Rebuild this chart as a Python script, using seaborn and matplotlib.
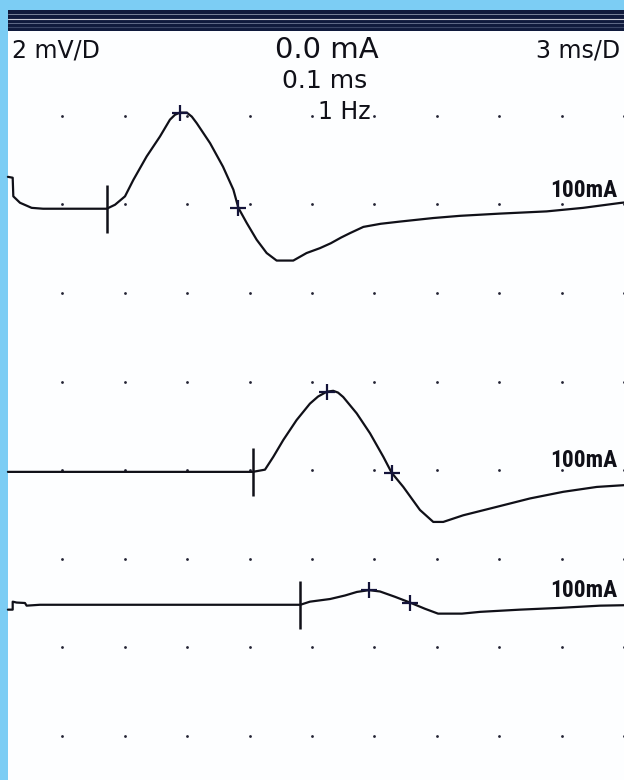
import numpy as np
import pandas as pd
import matplotlib
matplotlib.use("Agg")
import matplotlib.pyplot as plt
from matplotlib import font_manager
from matplotlib.patches import Rectangle
import seaborn as sns

# ---------------- data (time in ms, amplitude in mV relative to baseline) ----------------
t1 = [0.38, 0.61, 0.64, 0.96, 1.52, 2.07, 5.13, 5.53, 6.01, 6.41, 7.05, 7.69, 8.17, 8.41, 8.65,
      8.98, 9.22, 9.46, 10.10, 10.72, 11.22, 11.46, 11.86, 12.34, 12.82, 13.30, 14.10, 14.74,
      15.38, 15.90, 16.40, 16.83, 17.47, 18.30, 19.23, 20.83, 22.12, 24.04, 26.28, 28.04, 29.81, 30.0]
a1 = [0.72, 0.70, 0.28, 0.135, 0.02, 0.0, 0.0, 0.09, 0.28, 0.65, 1.18, 1.63, 2.01, 2.12, 2.17,
      2.17, 2.08, 1.93, 1.48, 0.95, 0.43, 0.02, -0.32, -0.70, -1.00, -1.17, -1.17, -1.00,
      -0.89, -0.78, -0.65, -0.55, -0.41, -0.34, -0.29, -0.21, -0.16, -0.11, -0.06, 0.02, 0.13, 0.14]

t2 = [0.38, 12.15, 12.74, 13.14, 13.62, 14.26, 14.90, 15.29, 15.71, 16.02, 16.25, 16.50, 17.15,
      17.79, 18.43, 18.83, 19.39, 20.19, 20.83, 21.31, 22.27, 23.88, 25.48, 27.08, 28.69, 30.0]
a2 = [0.0, 0.0, 0.05, 0.34, 0.72, 1.17, 1.54, 1.70, 1.81, 1.83, 1.79, 1.69, 1.32,
      0.87, 0.34, -0.02, -0.34, -0.86, -1.13, -1.13, -0.98, -0.79, -0.60, -0.45, -0.34, -0.30]

t3 = [0.38, 0.61, 0.61, 0.80, 1.20, 1.28, 1.92, 14.44, 14.90, 15.87, 16.59, 17.16, 17.74,
      18.27, 18.99, 19.71, 20.43, 21.06, 22.21, 23.08, 25.0, 26.92, 28.85, 30.0]
a3 = [-0.11, -0.11, 0.07, 0.05, 0.04, -0.02, 0.0, 0.0, 0.07, 0.13, 0.21, 0.29, 0.33,
      0.30, 0.18, 0.05, -0.09, -0.20, -0.20, -0.16, -0.11, -0.07, -0.02, -0.01]

onset_ms = [5.13, 12.15, 14.44]          # latency cursors
peak_ms = [8.65, 15.71, 17.74]           # '+' cursor 1
cross_ms = [11.46, 18.83, 19.71]         # '+' cursor 2
stim_labels = ["100mA", "100mA", "100mA"]

header_left = "2 mV/D"
header_right = "3 ms/D"
header_center = ["0.0 mA", "0.1 ms", "1 Hz"]

# ---------------- layout constants ----------------
W, H = 624, 780
PX_PER_MS = 20.8
PX_PER_MV = 44.3
Y0 = 27.1                      # pixel row of 0 mV grid line
offsets = [-4.10, -10.04, -13.04]
BLUE = "#7ccdf4"
INK = "#101018"

def fx(px):
    return px / W

def fy(py):
    return 1 - py / H

sns.set_theme(style="white")
fams = {f.name for f in font_manager.fontManager.ttflist}
cond = None
for cand in ["Liberation Sans Narrow", "DejaVu Sans Condensed", "Roboto Condensed",
             "Open Sans Condensed"]:
    if cand in fams:
        cond = cand
        break
plt.rcParams["font.family"] = ["DejaVu Sans"]

fig = plt.figure(figsize=(W / 100, H / 100), dpi=100)
fig.patch.set_facecolor(BLUE)

# white screen
fig.patches.append(Rectangle((fx(8), 0), 1 - fx(8), fy(10), transform=fig.transFigure,
                             facecolor="#fdfeff", edgecolor="none", zorder=0))
# dark header band with streaks
fig.patches.append(Rectangle((fx(8), fy(31)), 1 - fx(8), (31 - 10) / H, transform=fig.transFigure,
                             facecolor="#0f1a3c", edgecolor="none", zorder=1))
for yy, c, lw in [(14, "#8a93a8", 0.6), (19, "#c9ccd6", 0.8), (23, "#6d7894", 0.6), (27, "#3a4666", 0.8)]:
    fig.add_artist(plt.Line2D([fx(8), 1], [fy(yy), fy(yy)], transform=fig.transFigure,
                              color=c, lw=lw, zorder=2))

ax = fig.add_axes([0, 0, 1, 1])
ax.set_zorder(10)
ax.set_facecolor("none")
ax.patch.set_alpha(0)

# dotted division grid
gx, gy = np.meshgrid(np.arange(1, 11) * 3.0, -np.arange(1, 9) * 2.0)
ax.scatter(gx.ravel(), gy.ravel(), s=4, color="#222233", linewidths=0, zorder=3)

traces = [(t1, a1), (t2, a2), (t3, a3)]
for i, (tt, aa) in enumerate(traces):
    df = pd.DataFrame({"t": tt, "v": np.array(aa) + offsets[i]})
    sns.lineplot(data=df, x="t", y="v", sort=False, estimator=None, ax=ax,
                 color=INK, lw=1.6, zorder=5)
    # onset cursor
    ax.vlines(onset_ms[i], offsets[i] - 0.54, offsets[i] + 0.54, color=INK, lw=1.8, zorder=6)
    # '+' cursors
    for tm in (peak_ms[i], cross_ms[i]):
        ax.plot([tm], [np.interp(tm, tt, aa) + offsets[i]], marker="+", ms=11, mew=1.6,
                color="#14143a", zorder=7)
ax.set_xlim(0, W / PX_PER_MS)
ax.set_ylim((Y0 - H) / PX_PER_MV, Y0 / PX_PER_MV)
ax.axis("off")

# stimulus labels (fit to ~67 px width)
renderer = fig.canvas.get_renderer()
label_base_px = [197, 467, 597]
fam = [cond, "DejaVu Sans"] if cond else ["DejaVu Sans"]
for i, lab in enumerate(stim_labels):
    txt = fig.text(fx(617), fy(label_base_px[i]), lab, ha="right", va="baseline",
                   family=fam, weight="bold", fontsize=14, color=INK, zorder=20)
    w = txt.get_window_extent(renderer).width
    if w > 0:
        txt.set_fontsize(14 * 67.0 / w)

# header texts
fig.text(fx(12), fy(57), header_left, ha="left", va="baseline", fontsize=17, color=INK, zorder=20)
fig.text(fx(620), fy(57), header_right, ha="right", va="baseline", fontsize=17, color=INK, zorder=20)
fig.text(fx(327), fy(58), header_center[0], ha="center", va="baseline", fontsize=21, color=INK, zorder=20)
fig.text(fx(325), fy(88), header_center[1], ha="center", va="baseline", fontsize=18, color=INK, zorder=20)
fig.text(fx(344), fy(119), header_center[2], ha="center", va="baseline", fontsize=17, color=INK, zorder=20)

fig.savefig("out.png", dpi=100, facecolor=fig.get_facecolor())
